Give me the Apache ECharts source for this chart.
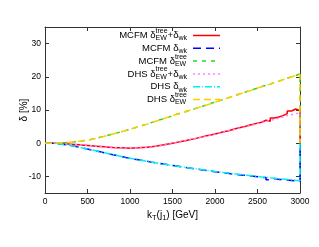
<!DOCTYPE html>
<html><head><meta charset="utf-8">
<script src="https://cdn.jsdelivr.net/npm/echarts@6/dist/echarts.min.js"></script>
<style>html,body{margin:0;padding:0;background:#fff}#c{width:319px;height:247px}</style>
</head><body><div id="c"></div><script>
// ---- data ----
const binWidth = 50;              // GeV
const xRange = [0, 3000];
const yRange = [-15, 35];
const xTicks = [0, 500, 1000, 1500, 2000, 2500, 3000];
const yTicks = [-10, 0, 10, 20, 30];

const mcfmFull = [0.0,0.0,-0.05,-0.1,-0.2,-0.3,-0.4,-0.5,-0.6,-0.7,
 -0.8,-0.9,-1.0,-1.1,-1.2,-1.3,-1.35,-1.4,-1.45,-1.5,
 -1.45,-1.4,-1.3,-1.2,-1.05,-0.9,-0.7,-0.5,-0.25,0.0,
 0.25,0.5,0.75,1.05,1.3,1.6,1.9,2.25,2.5,2.8,
 3.1,3.45,3.7,4.05,4.4,4.7,5.0,5.4,5.7,6.05,
 6.3,6.9,6.6,7.6,7.9,8.3,8.9,9.7,10.3,9.8];
const mcfmWk = [0,-0.05,-0.15,-0.3,-0.5,-0.7,-0.95,-1.2,-1.5,-1.75,
 -2.05,-2.3,-2.6,-2.9,-3.2,-3.45,-3.75,-4.0,-4.3,-4.55,
 -4.8,-5.0,-5.25,-5.45,-5.7,-5.9,-6.1,-6.3,-6.5,-6.7,
 -6.9,-7.1,-7.3,-7.5,-7.7,-7.85,-8.05,-8.25,-8.4,-8.6,
 -8.75,-8.9,-9.05,-9.3,-9.35,-9.6,-9.65,-9.9,-9.95,-10.1,
 -10.3,-10.35,-11.0,-10.65,-10.9,-10.95,-11.1,-11.2,-11.4,-11.5];
const mcfmTree = [0.0,0.02,0.06,0.12,0.2,0.3,0.42,0.56,0.72,0.9,
 1.2,1.45,1.8,2.1,2.45,2.75,3.1,3.5,3.8,4.2,
 4.6,5.0,5.35,5.8,6.2,6.6,7.05,7.4,7.8,8.3,
 8.7,9.1,9.45,9.9,10.3,10.75,11.1,11.5,11.95,12.4,
 12.8,13.2,13.65,14.0,14.5,14.9,15.3,15.8,16.2,16.6,
 17.05,17.4,17.85,18.3,18.7,19.1,19.6,20.0,20.4,20.9];
const dhsFull = [0.0,0.0,-0.05,-0.1,-0.2,-0.3,-0.4,-0.5,-0.6,-0.7,
 -0.8,-0.9,-1.0,-1.1,-1.2,-1.3,-1.35,-1.4,-1.45,-1.5,
 -1.45,-1.4,-1.3,-1.2,-1.1,-0.9,-0.75,-0.55,-0.3,-0.05,
 0.2,0.45,0.7,1.0,1.25,1.55,1.85,2.15,2.45,2.75,
 3.05,3.35,3.65,3.95,4.3,4.6,4.9,5.25,5.55,5.9,
 6.2,6.55,6.85,7.2,7.55,7.9,8.3,8.6,8.9,9.2];
const dhsWk = [0,-0.05,-0.15,-0.3,-0.5,-0.72,-0.95,-1.2,-1.48,-1.75,
 -2.02,-2.3,-2.58,-2.85,-3.15,-3.42,-3.7,-3.98,-4.25,-4.5,
 -4.75,-5.0,-5.22,-5.45,-5.68,-5.9,-6.1,-6.3,-6.5,-6.68,
 -6.88,-7.07,-7.25,-7.45,-7.62,-7.8,-7.98,-8.15,-8.32,-8.5,
 -8.65,-8.82,-8.98,-9.12,-9.28,-9.42,-9.58,-9.72,-9.86,-10.0,
 -10.15,-10.28,-10.42,-10.55,-10.68,-10.8,-10.92,-11.05,-11.18,-11.3];
const dhsTree = [0.0,0.03,0.07,0.13,0.21,0.31,0.43,0.57,0.73,0.92,
 1.15,1.45,1.75,2.1,2.4,2.75,3.1,3.45,3.85,4.2,
 4.6,4.95,5.4,5.75,6.2,6.6,7.0,7.45,7.85,8.25,
 8.7,9.05,9.5,9.9,10.3,10.7,11.15,11.5,11.9,12.35,
 12.8,13.25,13.6,14.05,14.45,14.9,15.3,15.75,16.15,16.6,
 17.0,17.45,17.8,18.25,18.7,19.1,19.5,19.95,20.4,20.8];

const seriesValues = [mcfmFull, mcfmWk, mcfmTree, dhsFull, dhsWk, dhsTree];
const seriesNames = ['MCFM δEW^tree+δwk','MCFM δwk','MCFM δEW^tree','DHS δEW^tree+δwk','DHS δwk','DHS δEW^tree'];
const seriesPrefix = ['MCFM','MCFM','MCFM','DHS','DHS','DHS'];
const seriesKind = ['full','wk','tree','full','wk','tree'];
const seriesColors = ['#ff0000','#0000ff','#22dd22','#ff80ff','#00eeee','#ffcc00'];
const seriesDash = ['solid',[8,5],[4,5],[2,3],[7,2,1,2],[7,4]];

// ---- helpers ----
const FONT = '"Liberation Sans", Arial, sans-serif';
const ctx = document.createElement('canvas').getContext('2d');
function tw(t, size){ ctx.font = size + 'px ' + FONT; return ctx.measureText(t).width; }
let MAIN = 9.5, SMALL = 7;

function tokensFor(prefix, kind){
  const d = prefix + ' δ';
  if (kind === 'full') return [{t:d},{stack:['tree','EW']},{t:'+δ'},{sub:'wk'}];
  if (kind === 'wk') return [{t:d},{sub:'wk'}];
  return [{t:d},{stack:['tree','EW']}];
}
function tokWidth(k){
  if (k.t) return tw(k.t, MAIN);
  if (k.sub) return tw(k.sub, SMALL);
  return Math.max(tw(k.stack[0], SMALL), tw(k.stack[1], SMALL));
}
function buildText(tokens, x0, yc, els){
  let x = x0;
  tokens.forEach(k => {
    const w = tokWidth(k);
    if (k.t) els.push({type:'text', x:x, y:yc, style:{text:k.t, font:MAIN+'px '+FONT, fill:'#000', textVerticalAlign:'middle'}, silent:true});
    else if (k.sub) els.push({type:'text', x:x, y:yc+3, style:{text:k.sub, font:SMALL+'px '+FONT, fill:'#000', textVerticalAlign:'middle'}, silent:true});
    else {
      els.push({type:'text', x:x, y:yc-4.5, style:{text:k.stack[0], font:SMALL+'px '+FONT, fill:'#000', textVerticalAlign:'middle'}, silent:true});
      els.push({type:'text', x:x, y:yc+3, style:{text:k.stack[1], font:SMALL+'px '+FONT, fill:'#000', textVerticalAlign:'middle'}, silent:true});
    }
    x += w;
  });
  return x - x0;
}
function totalWidth(tokens){ return tokens.reduce((s,k)=>s+tokWidth(k),0); }

// ---- graphics (legend + axis titles) ----
const graphics = [];
const legendRight = 187, legendTop = 35.5, legendStep = 12.8;
seriesValues.forEach((v, i) => {
  const yc = legendTop + i * legendStep;
  const toks = tokensFor(seriesPrefix[i], seriesKind[i]);
  buildText(toks, legendRight - totalWidth(toks), yc, graphics);
  graphics.push({type:'line', shape:{x1:193, y1:yc, x2:220, y2:yc}, silent:true,
    style:{stroke:seriesColors[i], lineWidth:1.5, lineDash: seriesDash[i]==='solid'?null:seriesDash[i]}});
});
// x-axis title: k_T(j_1) [GeV]
MAIN = 10; SMALL = 7.5;
const xTitle = [{t:'k'},{sub:'T'},{t:'(j'},{sub:'1'},{t:') [GeV]'}];
buildText(xTitle, 172.5 - totalWidth(xTitle)/2, 215, graphics);
// y-axis title
graphics.push({type:'text', x:24, y:110, rotation:Math.PI/2, silent:true,
  style:{text:'δ [%]', font:'10px '+FONT, fill:'#000', textAlign:'center', textVerticalAlign:'middle'}});

// ---- chart ----
const axisColor = '#333';
function mkAxis(pos, range, ticks, showLabel){
  return {
    type:'value', position:pos, min:range[0], max:range[1],
    axisLine:{show:true, onZero:false, lineStyle:{color:axisColor, width:1}},
    axisTick:{show:true, inside:true, length:4, customValues:ticks, lineStyle:{color:axisColor}},
    axisLabel:{show:showLabel, customValues:ticks, fontSize:8.5, fontFamily:FONT, color:'#000', margin:4,
      formatter: v => String(v)},
    splitLine:{show:false}
  };
}
const chart = echarts.init(document.getElementById('c'), null, {renderer:'canvas'});
chart.setOption({
  animation:false,
  backgroundColor:'#fff',
  grid:{left:45, right:19, top:27, bottom:54, containLabel:false},
  xAxis:[mkAxis('bottom', xRange, xTicks, true), mkAxis('top', xRange, xTicks, false)],
  yAxis:[mkAxis('left', yRange, yTicks, true), mkAxis('right', yRange, yTicks, false)],
  series: seriesValues.map((vals, i) => {
    const pts = vals.map((v, j) => [xRange[0] + j * binWidth, v]);
    pts.push([xRange[1], 0]);
    return {type:'line', name:seriesNames[i], data:pts, step:'end', symbol:'none',
      xAxisIndex:0, yAxisIndex:0, z:2+i,
      lineStyle:{color:seriesColors[i], width:1.5, type:seriesDash[i]}};
  }),
  graphic:graphics
});
</script></body></html>
